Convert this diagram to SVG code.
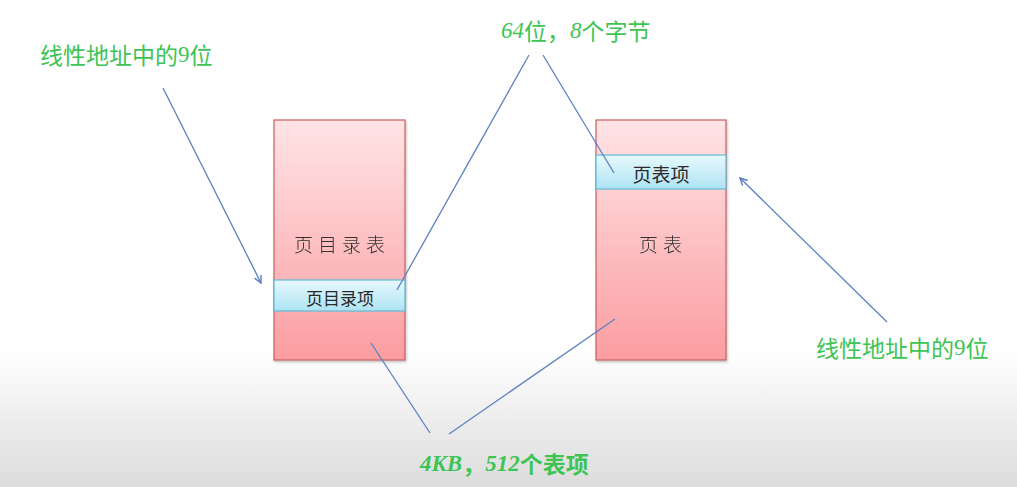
<svg xmlns="http://www.w3.org/2000/svg" width="1017" height="487" viewBox="0 0 1017 487">
<defs>
<linearGradient id="bg" x1="0" y1="0" x2="0" y2="1">
<stop offset="0" stop-color="#ffffff"/>
<stop offset="0.72" stop-color="#ffffff"/>
<stop offset="1" stop-color="#dcdcdc"/>
</linearGradient>
<linearGradient id="pink" x1="0" y1="0" x2="0" y2="1">
<stop offset="0" stop-color="#ffe4e6"/>
<stop offset="1" stop-color="#fb9da1"/>
</linearGradient>
<linearGradient id="cyan" x1="0" y1="0" x2="0" y2="1">
<stop offset="0" stop-color="#e8f8fc"/>
<stop offset="1" stop-color="#aee4f4"/>
</linearGradient>
<marker id="arr" viewBox="0 0 10 10" refX="9" refY="5" markerWidth="9" markerHeight="9" orient="auto" markerUnits="userSpaceOnUse">
<path d="M1,1 L9,5 L1,9" fill="none" stroke="#5b82c0" stroke-width="1.6"/>
</marker>
<filter id="sh" x="-10%" y="-10%" width="130%" height="130%">
<feDropShadow dx="1" dy="1.5" stdDeviation="1" flood-color="#000" flood-opacity="0.25"/>
</filter>
</defs>
<style>
.box{fill:url(#pink);stroke:#c9605e;stroke-width:1.2}
.band{fill:url(#cyan);stroke:#5fbcd6;stroke-width:1.2}
.lbl{font-family:"Noto Sans CJK SC",sans-serif;fill:#2a2a2a;text-anchor:middle;dominant-baseline:central}
.ser{font-family:"Noto Sans CJK SC",sans-serif;font-weight:300;fill:#333;text-anchor:middle;dominant-baseline:central;letter-spacing:5px}
.g{font-family:"Noto Sans CJK SC",sans-serif;fill:#3dc454;font-size:23px;dominant-baseline:central}
.gi{font-family:"Liberation Serif","Noto Sans CJK SC",serif;font-style:italic}
.ln{stroke:#5b82c0;stroke-width:1.3;fill:none}
</style>
<rect x="0" y="0" width="1017" height="487" fill="url(#bg)"/>
<g id="page-directory" filter="url(#sh)">
<rect class="box" x="274" y="120" width="131" height="240"/>
<text class="ser" x="342" y="243" font-size="19">页目录表</text>
</g>
<g id="page-directory-entry">
<rect class="band" x="274" y="280" width="131" height="31"/>
<text class="lbl" x="340" y="297" font-size="17">页目录项</text>
</g>
<g id="page-table" filter="url(#sh)">
<rect class="box" x="596" y="120" width="130" height="240"/>
<text class="ser" x="663" y="243" font-size="19">页表</text>
</g>
<g id="page-table-entry">
<rect class="band" x="596" y="155" width="130" height="34"/>
<text class="lbl" x="661" y="173" font-size="19">页表项</text>
</g>
<g id="label-left">
<text class="g" x="40" y="54">线性地址中的<tspan font-family="Liberation Serif,serif">9</tspan>位</text>
</g>
<g id="label-right">
<text class="g" x="816" y="347">线性地址中的<tspan font-family="Liberation Serif,serif">9</tspan>位</text>
</g>
<g id="label-top">
<text class="g" x="501" y="30"><tspan class="gi">64</tspan>位，<tspan class="gi">8</tspan>个字节</text>
</g>
<g id="label-bottom">
<text class="g" x="420" y="463" font-weight="bold"><tspan class="gi">4KB</tspan>，<tspan class="gi">512</tspan>个表项</text>
</g>
<g id="connectors">
<line class="ln" x1="163" y1="88" x2="261" y2="283" marker-end="url(#arr)"/>
<line class="ln" x1="887" y1="322" x2="740" y2="178" marker-end="url(#arr)"/>
<line class="ln" x1="529" y1="55" x2="397" y2="290"/>
<line class="ln" x1="543" y1="55" x2="614" y2="173"/>
<line class="ln" x1="371" y1="343" x2="430" y2="433"/>
<line class="ln" x1="449" y1="434" x2="615" y2="319"/>
</g>
</svg>
